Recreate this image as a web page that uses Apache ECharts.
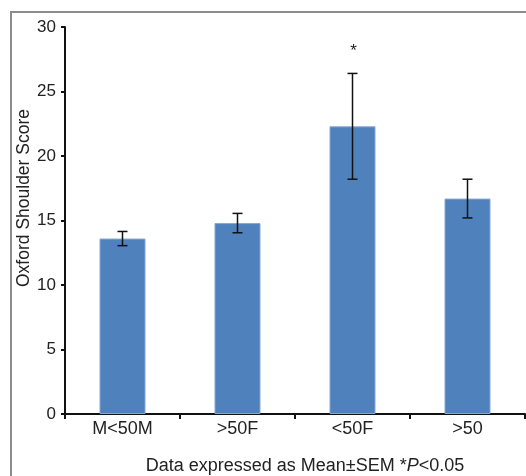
<!DOCTYPE html>
<html><head><meta charset="utf-8">
<script src="https://cdn.jsdelivr.net/npm/echarts@6/dist/echarts.min.js"></script>
<style>html,body{margin:0;padding:0;background:#fff}#c{width:526px;height:476px}</style>
</head><body><div id="c"></div>
<script>
var categories = ['M<50M', '>50F', '<50F', '>50'];
var means = [13.6, 14.8, 22.3, 16.7];
var sem = [0.55, 0.75, 4.1, 1.5];
var marks = ['', '', '*', ''];
var yTicks = [0, 5, 10, 15, 20, 25, 30];

var chart = echarts.init(document.getElementById('c'));
var font = '"Liberation Sans", Arial, sans-serif';
chart.setOption({
  animation: false,
  grid: {left: 65, right: 1, top: 27, bottom: 62},
  graphic: [
    {type: 'rect', shape: {x: 11, y: 12, width: 530, height: 480}, style: {fill: 'none', stroke: '#8c8c8c', lineWidth: 2}, z: -1},
    {type: 'text', x: 24, y: 198, rotation: Math.PI / 2, style: {
      text: 'Oxford Shoulder Score', fontSize: 17.5, fontFamily: font, fill: '#222', align: 'center', verticalAlign: 'middle'}},
    {type: 'text', x: 305, y: 466, style: {
      text: '{n|Data expressed as Mean±SEM *}{i|P}{n|<0.05}', align: 'center', verticalAlign: 'middle',
      rich: {n: {fontSize: 18, fontFamily: font, fill: '#222'}, i: {fontSize: 18, fontFamily: font, fontStyle: 'italic', fill: '#222'}}
    }}
  ],
  xAxis: {
    type: 'category', data: categories,
    axisLine: {lineStyle: {color: '#111', width: 2}},
    axisTick: {show: true, length: 5, lineStyle: {color: '#111', width: 2}},
    axisLabel: {fontSize: 18, fontFamily: font, color: '#222', margin: 6}
  },
  yAxis: {
    type: 'value', min: 0, max: 30, interval: 5,
    axisLine: {show: true, lineStyle: {color: '#111', width: 2}},
    axisTick: {show: true, length: 4, lineStyle: {color: '#111', width: 2}},
    axisLabel: {fontSize: 17, fontFamily: font, color: '#222', margin: 9,
      formatter: function (v) { return yTicks.indexOf(v) >= 0 ? String(v) : ''; }},
    splitLine: {show: false}
  },
  series: [
    {type: 'bar', data: means, barWidth: '40%',
      itemStyle: {color: '#4f81bd', borderColor: '#86a7d3', borderWidth: 1}},
    {type: 'custom', z: 10,
      data: means.map(function (m, i) { return [i, m - sem[i], m + sem[i], marks[i]]; }),
      renderItem: function (params, api) {
        var lo = api.coord([api.value(0), api.value(1)]);
        var hi = api.coord([api.value(0), api.value(2)]);
        var w = 5;
        var children = [
          {type: 'line', shape: {x1: hi[0], y1: hi[1], x2: lo[0], y2: lo[1]}, style: {stroke: '#111', lineWidth: 1.5}},
          {type: 'line', shape: {x1: hi[0] - w, y1: hi[1], x2: hi[0] + w, y2: hi[1]}, style: {stroke: '#111', lineWidth: 1.5}},
          {type: 'line', shape: {x1: lo[0] - w, y1: lo[1], x2: lo[0] + w, y2: lo[1]}, style: {stroke: '#111', lineWidth: 1.5}}
        ];
        var mk = marks[params.dataIndex];
        if (mk) {
          children.push({type: 'text', style: {text: mk, x: hi[0] + 1, y: hi[1] - 22, align: 'center', verticalAlign: 'middle', fontSize: 17, fontFamily: font, fill: '#222'}});
        }
        return {type: 'group', children: children};
      }
    }
  ]
});
</script></body></html>
